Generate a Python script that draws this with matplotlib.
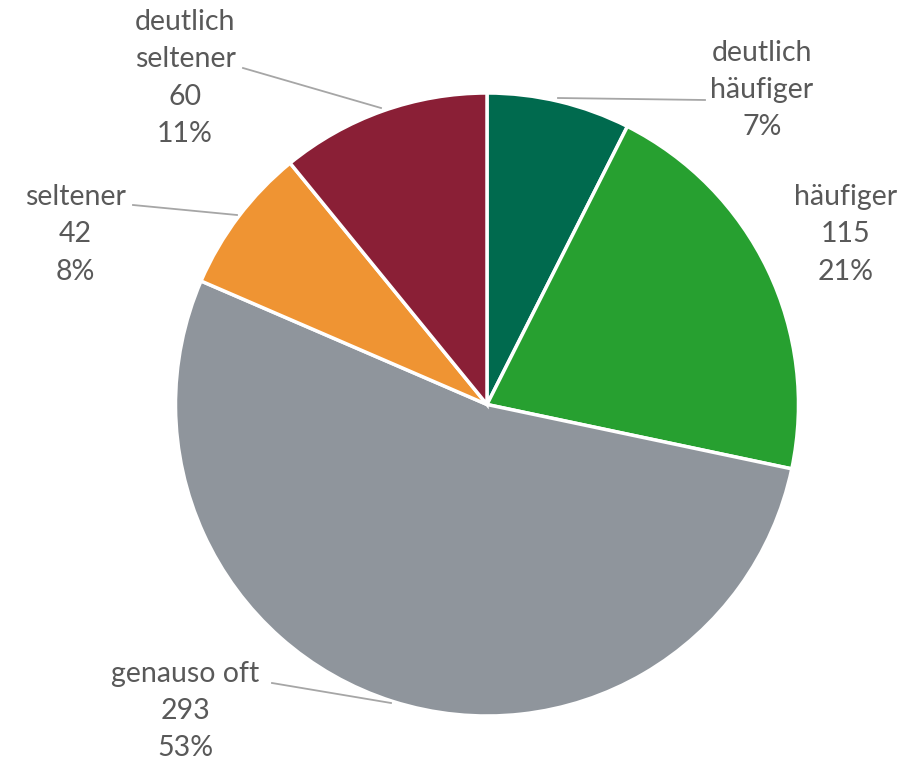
import matplotlib
matplotlib.use("Agg")
import matplotlib.pyplot as plt

categories = ["deutlich\nhäufiger", "häufiger", "genauso oft", "seltener", "deutlich\nseltener"]
values = [41, 115, 293, 42, 60]
show_count = [False, True, True, True, True]
colors = ["#006A4E", "#27A030", "#8F959C", "#EF9433", "#8A1F36"]

W, H = 919, 764
fig = plt.figure(figsize=(W / 100, H / 100), dpi=100)
ax = fig.add_axes([0, 0, 1, 1])

cx, cy, r = 487, H - 404.5, 311.5
ax.pie(values, colors=colors, startangle=90, counterclock=False,
       center=(cx, cy), radius=r,
       wedgeprops=dict(edgecolor="white", linewidth=2.5))
ax.set_xlim(0, W)
ax.set_ylim(0, H)
ax.set_aspect("equal")
ax.axis("off")

total = sum(values)
# label block center (x, y) and leader lines in pixel coords
label_pos = [(762, 90), (846, 234.5), (185, 711), (75, 234.5), (185, 78)]
leaders = [[(558, 98), (705, 100)], None, [(391, 703), (272, 683)],
           [(237, 215), (133, 205)], [(381, 108), (243, 68)]]
text_color = "#595959"
for cat, v, sc, (x, y), ld in zip(categories, values, show_count, label_pos, leaders):
    pct = f"{round(100 * v / total)}%"
    s = f"{cat}\n{v}\n{pct}" if sc else f"{cat}\n{pct}"
    ax.text(x, H - y, s, ha="center", va="center", fontsize=20.5,
            color=text_color, family="Lato", linespacing=1.53)
    if ld:
        ax.plot([p[0] for p in ld], [H - p[1] for p in ld], color="#A6A6A6", lw=1.3)

fig.savefig("out.png", dpi=100)
